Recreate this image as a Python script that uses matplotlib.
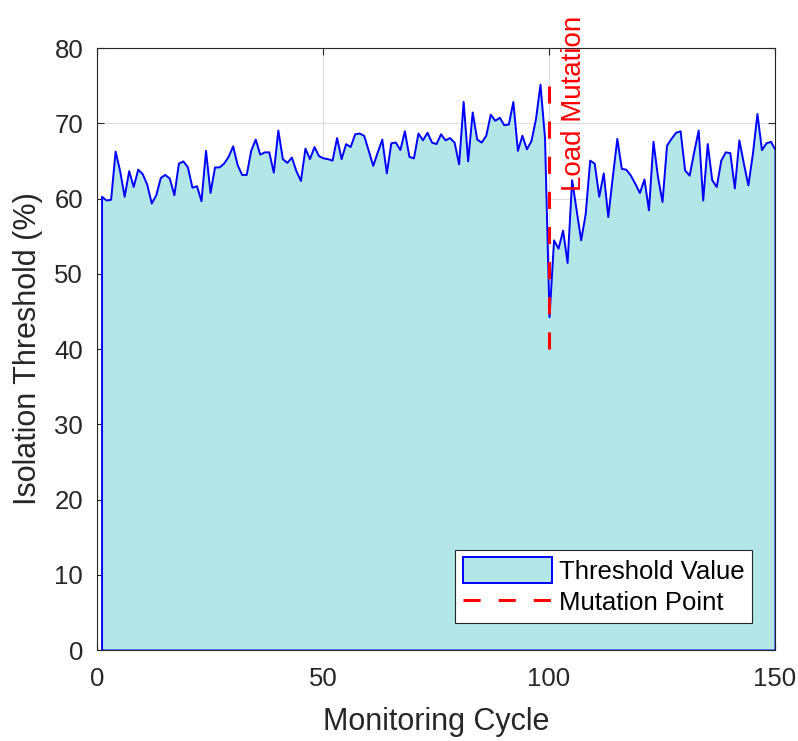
import numpy as np
import matplotlib
matplotlib.use('Agg')
from matplotlib import pyplot as plt

# monitoring cycles 1..150 and threshold values
cycles = np.arange(1, 151)
threshold = [
    60.3, 59.8, 59.9, 66.3, 63.7, 60.3, 63.7, 61.6, 63.9, 63.3,
    61.9, 59.4, 60.5, 62.8, 63.2, 62.7, 60.5, 64.7, 65.0, 64.2,
    61.5, 61.7, 59.7, 66.4, 60.8, 64.2, 64.2, 64.7, 65.6, 67.0,
    64.5, 63.2, 63.2, 66.4, 67.9, 65.9, 66.2, 66.2, 63.5, 69.1,
    65.3, 64.8, 65.5, 63.7, 62.4, 66.7, 65.3, 66.9, 65.7, 65.4,
    65.3, 65.1, 68.1, 65.3, 67.3, 66.9, 68.6, 68.7, 68.4, 66.4,
    64.4, 66.2, 67.9, 63.4, 67.4, 67.5, 66.5, 69.0, 65.6, 65.4,
    68.7, 67.8, 68.8, 67.5, 67.3, 68.6, 67.8, 68.1, 67.5, 64.6,
    72.9, 65.0, 71.5, 67.9, 67.5, 68.4, 71.2, 70.4, 70.8, 69.8,
    69.9, 72.9, 66.4, 68.4, 66.6, 67.7, 70.6, 75.2, 68.1, 44.3,
    54.5, 53.4, 55.8, 51.5, 62.5, 58.5, 54.5, 58.0, 65.1, 64.7,
    60.3, 63.4, 57.6, 62.9, 68.0, 64.0, 63.9, 63.1, 62.0, 60.8,
    62.6, 58.5, 67.6, 62.9, 59.6, 67.1, 68.0, 68.8, 69.0, 63.8,
    63.1, 66.2, 69.1, 59.8, 67.3, 62.5, 61.6, 65.1, 66.2, 66.1,
    61.4, 67.8, 64.7, 61.8, 66.0, 71.3, 66.5, 67.4, 67.6, 66.5,
]
mutation_x = [100, 100]
mutation_y = [40, 75]

plt.rcParams['font.family'] = ['Liberation Sans', 'DejaVu Sans']
txt = '#262626'

fig = plt.figure(figsize=(7.98, 7.41), dpi=100)
ax = fig.add_axes([0.1216, 0.1228, 0.8496, 0.8124])

ax.fill_between(cycles, threshold, 0, facecolor=(0.7, 0.9, 0.9),
                edgecolor='blue', linewidth=1.4, label='Threshold Value', zorder=2)
ax.plot(mutation_x, mutation_y, '--', color='red', linewidth=2.2,
        dashes=(5.6, 5.9), label='Mutation Point', zorder=3)
ax.text(105.5, 61, 'Load Mutation', rotation=90, color='red', fontsize=20,
        ha='center', va='bottom', clip_on=False, zorder=4)

ax.set_xlim(0, 150)
ax.set_ylim(0, 80)
ax.set_xticks([0, 50, 100, 150])
ax.set_yticks(np.arange(0, 81, 10))
ax.grid(True, color='#dcdcdc', linewidth=0.8, zorder=0)
ax.set_axisbelow(True)
ax.tick_params(direction='in', top=True, right=True, labelsize=18.5,
               colors=txt, length=5, width=0.8)
ax.tick_params(axis='x', pad=12)
ax.tick_params(axis='y', pad=10)
for s in ax.spines.values():
    s.set_color(txt)
    s.set_linewidth(0.8)
    s.set_zorder(5)

ax.set_xlabel('Monitoring Cycle', fontsize=22, color=txt, labelpad=12)
ax.set_ylabel('Isolation Threshold (%)', fontsize=22, color=txt, labelpad=8)

leg = ax.legend(loc='lower right', bbox_to_anchor=(0.966, 0.045), fontsize=18.5,
                fancybox=False, framealpha=1, edgecolor=txt, borderpad=0.3,
                handlelength=3.46, handleheight=1.13, handletextpad=0.27,
                labelspacing=0.2, borderaxespad=0)
leg.get_frame().set_linewidth(0.8)

fig.savefig('out.png', dpi=100)
